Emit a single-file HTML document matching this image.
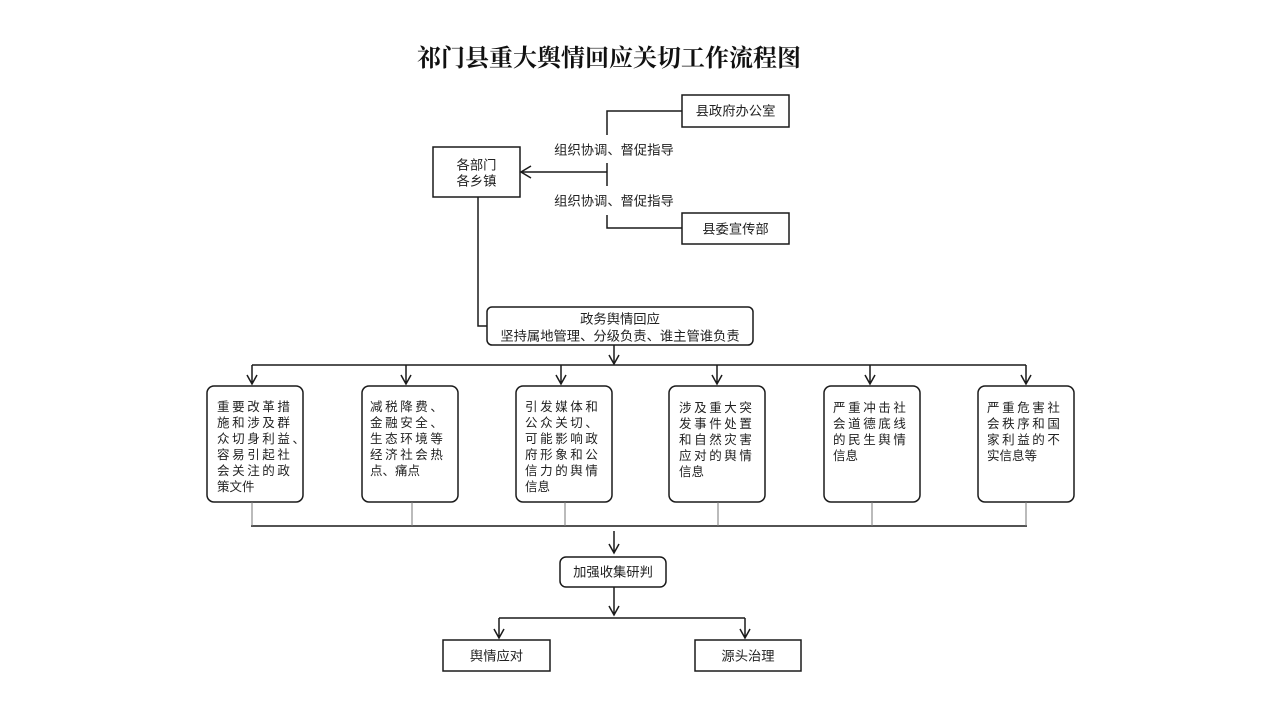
<!DOCTYPE html>
<html>
<head>
<meta charset="utf-8">
<style>
  html,body{margin:0;padding:0;background:#fff;}
  svg{display:block;}
  .t{font-family:"Liberation Sans","Noto Sans CJK SC",sans-serif;font-size:13.3px;fill:#222;}
  .b{font-family:"Liberation Sans","Noto Sans CJK SC",sans-serif;font-size:12.5px;fill:#222;}
  .title{font-family:"Liberation Serif","Noto Serif CJK SC",serif;font-size:24px;font-weight:bold;fill:#111;}
</style>
</head>
<body>
<svg width="1280" height="720" viewBox="0 0 1280 720" xmlns="http://www.w3.org/2000/svg">
  <rect width="1280" height="720" fill="#fff"/>
  <text class="title" x="609" y="66" text-anchor="middle">祁门县重大舆情回应关切工作流程图</text>

  <g fill="none" stroke="#1a1a1a" stroke-width="1.5">
    <!-- top boxes -->
    <rect x="682" y="95" width="107" height="32"/>
    <rect x="433" y="147" width="87" height="50"/>
    <rect x="682" y="213" width="107" height="31"/>
    <!-- bracket lines -->
    <path d="M682,111 H607 V135"/>
    <path d="M607,163 V186"/>
    <path d="M607,215 V228 H682"/>
    <path d="M607,172 H521"/>
    <path d="M531,166 L521,172 L531,178"/>
    <!-- down from 各部门 -->
    <path d="M478,197 V326 H487"/>
    <!-- policy box -->
    <rect x="487" y="307" width="266" height="38" rx="5"/>
    <path d="M614,345 V364"/>
    <path d="M609,355 L614,364 L619,355"/>
    <path d="M252,365 H1026"/>
    <!-- six arrows -->
    <path d="M252,365 V384 M247,375 L252,384 L257,375"/>
    <path d="M406,365 V384 M401,375 L406,384 L411,375"/>
    <path d="M561,365 V384 M556,375 L561,384 L566,375"/>
    <path d="M717,365 V384 M712,375 L717,384 L722,375"/>
    <path d="M870,365 V384 M865,375 L870,384 L875,375"/>
    <path d="M1026,365 V384 M1021,375 L1026,384 L1031,375"/>
    <!-- six boxes -->
    <rect x="207" y="386" width="96" height="116" rx="7"/>
    <rect x="362" y="386" width="96" height="116" rx="7"/>
    <rect x="516" y="386" width="96" height="116" rx="7"/>
    <rect x="669" y="386" width="96" height="116" rx="7"/>
    <rect x="824" y="386" width="96" height="116" rx="7"/>
    <rect x="978" y="386" width="96" height="116" rx="7"/>
    <!-- bottom collector -->
    <path d="M251,526 H1027"/>
    <path d="M614,531 V553 M609,544 L614,553 L619,544"/>
    <rect x="560" y="557" width="106" height="30" rx="6"/>
    <path d="M614,587 V615 M609,606 L614,615 L619,606"/>
    <path d="M499,618 H745"/>
    <path d="M499,618 V638 M494,629 L499,638 L504,629"/>
    <path d="M745,618 V638 M740,629 L745,638 L750,629"/>
    <rect x="443" y="640" width="107" height="31"/>
    <rect x="695" y="640" width="106" height="31"/>
  </g>
  <g fill="none" stroke="#777" stroke-width="1">
    <path d="M252,502 V526 M412,502 V526 M565,502 V526 M718,502 V526 M872,502 V526 M1026,502 V526"/>
  </g>

  <!-- top labels -->
  <text class="t" x="735.5" y="111" text-anchor="middle" dominant-baseline="central">县政府办公室</text>
  <text class="t" x="476.5" y="165" text-anchor="middle" dominant-baseline="central">各部门</text>
  <text class="t" x="476.5" y="181" text-anchor="middle" dominant-baseline="central">各乡镇</text>
  <text class="t" x="735.5" y="229" text-anchor="middle" dominant-baseline="central">县委宣传部</text>
  <text class="t" x="614" y="150" text-anchor="middle" dominant-baseline="central">组织协调、督促指导</text>
  <text class="t" x="614" y="201" text-anchor="middle" dominant-baseline="central">组织协调、督促指导</text>

  <text class="t" x="620" y="319" text-anchor="middle" dominant-baseline="central">政务舆情回应</text>
  <text class="t" x="620" y="336" text-anchor="middle" dominant-baseline="central">坚持属地管理、分级负责、谁主管谁负责</text>

  <!-- six box texts -->
  <g class="b" dominant-baseline="central">
    <text x="217" y="407" letter-spacing="2.6">重要改革措</text>
    <text x="217" y="423" letter-spacing="2.6">施和涉及群</text>
    <text x="217" y="439" letter-spacing="2.6">众切身利益、</text>
    <text x="217" y="455" letter-spacing="2.6">容易引起社</text>
    <text x="217" y="471" letter-spacing="2.6">会关注的政</text>
    <text x="217" y="487">策文件</text>

    <text x="370" y="407" letter-spacing="2.6">减税降费、</text>
    <text x="370" y="423" letter-spacing="2.6">金融安全、</text>
    <text x="370" y="439" letter-spacing="2.6">生态环境等</text>
    <text x="370" y="455" letter-spacing="2.6">经济社会热</text>
    <text x="370" y="471">点、痛点</text>

    <text x="525" y="407" letter-spacing="2.6">引发媒体和</text>
    <text x="525" y="423" letter-spacing="2.6">公众关切、</text>
    <text x="525" y="439" letter-spacing="2.6">可能影响政</text>
    <text x="525" y="455" letter-spacing="2.6">府形象和公</text>
    <text x="525" y="471" letter-spacing="2.6">信力的舆情</text>
    <text x="525" y="487">信息</text>

    <text x="679" y="408" letter-spacing="2.6">涉及重大突</text>
    <text x="679" y="424" letter-spacing="2.6">发事件处置</text>
    <text x="679" y="440" letter-spacing="2.6">和自然灾害</text>
    <text x="679" y="456" letter-spacing="2.6">应对的舆情</text>
    <text x="679" y="472">信息</text>

    <text x="833" y="408" letter-spacing="2.6">严重冲击社</text>
    <text x="833" y="424" letter-spacing="2.6">会道德底线</text>
    <text x="833" y="440" letter-spacing="2.6">的民生舆情</text>
    <text x="833" y="456">信息</text>

    <text x="987" y="408" letter-spacing="2.6">严重危害社</text>
    <text x="987" y="424" letter-spacing="2.6">会秩序和国</text>
    <text x="987" y="440" letter-spacing="2.6">家利益的不</text>
    <text x="987" y="456">实信息等</text>
  </g>

  <text class="t" x="613" y="572" text-anchor="middle" dominant-baseline="central">加强收集研判</text>
  <text class="t" x="496.5" y="656" text-anchor="middle" dominant-baseline="central">舆情应对</text>
  <text class="t" x="748" y="656" text-anchor="middle" dominant-baseline="central">源头治理</text>
</svg>
</body>
</html>
